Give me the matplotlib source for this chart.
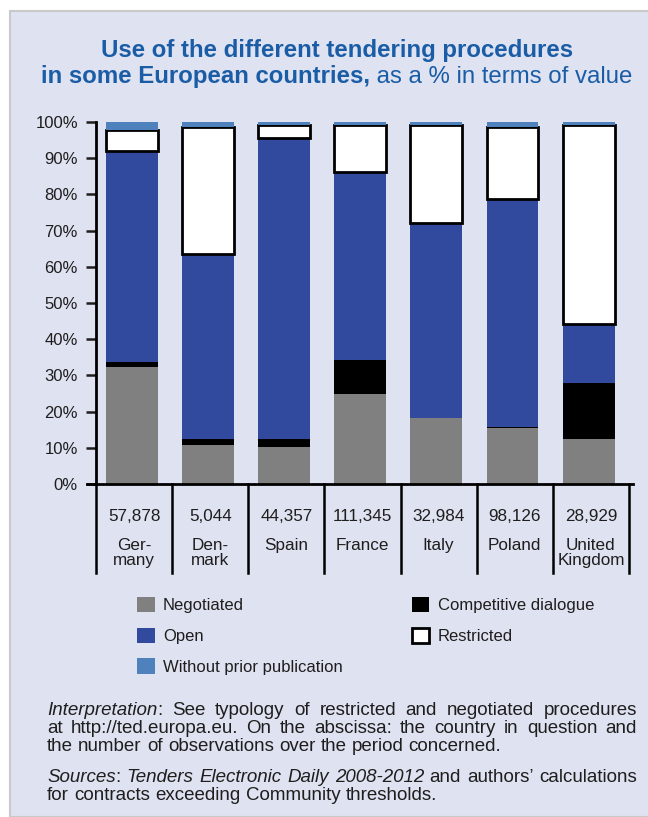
import matplotlib
matplotlib.use("Agg")
import matplotlib.pyplot as plt
from matplotlib.patches import Rectangle
import numpy as np

countries = ["Ger-\nmany", "Den-\nmark", "Spain", "France", "Italy", "Poland", "United\nKingdom"]
n_obs = ["57,878", "5,044", "44,357", "111,345", "32,984", "98,126", "28,929"]

negotiated = [32.4, 10.8, 10.1, 24.8, 18.1, 15.4, 12.3]
competitive = [1.2, 1.5, 2.2, 9.5, 0.0, 0.4, 15.5]
open_proc = [58.4, 51.2, 83.3, 51.8, 53.9, 62.9, 16.4]
restricted = [5.8, 35.0, 3.6, 13.1, 27.2, 19.8, 55.0]
without_prior = [2.2, 1.5, 0.8, 0.8, 0.8, 1.5, 0.8]

yticks = [0, 10, 20, 30, 40, 50, 60, 70, 80, 90, 100]

BG = "#DFE2F0"
TITLE_C = "#1A5DA6"
TXT = "#1E1E1E"
W, H = 648, 817

plt.rcParams["font.family"] = ["Liberation Sans", "DejaVu Sans"]

fig = plt.figure(figsize=(W / 100, H / 100), dpi=100, facecolor="white")
fig.patches.append(Rectangle((10 / W, 0), 1, 1 - 11 / H, transform=fig.transFigure,
                             facecolor=BG, edgecolor="#C9C9C9", linewidth=1.5, zorder=-5))

# title
fig.text(337 / W, 1 - 51 / H, "Use of the different tendering procedures", ha="center", va="center",
         fontsize=17.3, fontweight="bold", color=TITLE_C)
r = fig.canvas.get_renderer()
t1 = fig.text(0, 1 - 77 / H, "in some European countries,", ha="left", va="center",
              fontsize=17.3, fontweight="bold", color=TITLE_C)
t2 = fig.text(0, 1 - 77 / H, " as a % in terms of value", ha="left", va="center",
              fontsize=17.3, color=TITLE_C)
w1 = t1.get_window_extent(r).width
w2 = t2.get_window_extent(r).width
x0 = 337 - (w1 + w2) / 2
t1.set_x(x0 / W)
t2.set_x((x0 + w1) / W)

# main axes
ax = fig.add_axes([96 / W, 1 - 484 / H, (629 - 96) / W, (484 - 122) / H])
ax.patch.set_alpha(0)
x = np.arange(len(countries))
bw = 0.68
xb = x - 0.03

bottom = np.zeros(len(x))
ax.bar(xb, negotiated, bw, bottom=bottom, color="#808080", label="Negotiated", zorder=2)
bottom += negotiated
ax.bar(xb, competitive, bw, bottom=bottom, color="#000000", label="Competitive dialogue", zorder=2)
bottom += competitive
ax.bar(xb, open_proc, bw, bottom=bottom, color="#314A9D", label="Open", zorder=2)
bottom += open_proc
ax.bar(xb, restricted, bw, bottom=bottom, color="white", edgecolor="black", linewidth=2,
       label="Restricted", zorder=3)
bottom += restricted
ax.bar(xb, without_prior, bw, bottom=bottom, color="#4F81BD", label="Without prior publication", zorder=4)

ax.set_xlim(-0.5, len(x) - 0.5)
ax.set_ylim(0, 100)
ax.set_yticks(yticks)
ax.set_yticklabels([f"{v}%" for v in yticks])
ax.tick_params(axis="y", length=7, width=1.8, direction="out", labelsize=12, colors=TXT, pad=6)
ax.tick_params(axis="x", length=0, labelbottom=False)
for s in ["top", "right"]:
    ax.spines[s].set_visible(False)
ax.spines["left"].set_linewidth(2)
ax.spines["bottom"].set_linewidth(2)
ax.spines["bottom"].set_bounds(-0.62, len(x) - 0.45)

# table under the axis
for k in range(len(x) + 1):
    ax.plot([k - 0.5, k - 0.5], [0, -24.5], color="black", lw=1.8, clip_on=False, zorder=5)
for i in range(len(x)):
    ax.text(x[i], -9.1, n_obs[i], ha="center", va="center", fontsize=12.3, color=TXT, clip_on=False)
    ax.text(x[i], -15.0, countries[i], ha="center", va="top", fontsize=12.3, color=TXT,
            linespacing=1.0, clip_on=False)

# legend
h = {lab: hd for hd, lab in zip(*ax.get_legend_handles_labels())}
order = ["Negotiated", "Open", "Without prior publication", "Competitive dialogue", "Restricted"]
leg = fig.legend([h[o] for o in order], order, loc="upper left", bbox_to_anchor=(122 / W, 1 - 582 / H),
                 ncol=2, frameon=False, fontsize=12, handlelength=1.05, handleheight=1.05,
                 handletextpad=0.5, labelspacing=0.85, columnspacing=4.15)
for t in leg.get_texts():
    t.set_color(TXT)

# footnotes, justified
def draw_line(y, words, xl, xr=None, size=13.5):
    items = []
    total = 0
    for word in words:
        segs = []
        wsum = 0
        for txt, st in word:
            t = fig.text(0, 1 - (y + 5) / H, txt, fontsize=size, style=st, color=TXT,
                         va="baseline", ha="left")
            ww = t.get_window_extent(r).width
            segs.append((t, ww))
            wsum += ww
        items.append((segs, wsum))
        total += wsum
    gap = size * 100 / 72 * 0.278
    if xr is not None and len(items) > 1:
        gap = (xr - xl - total) / (len(items) - 1)
    xx = xl
    for segs, wsum in items:
        for t, ww in segs:
            t.set_x(xx / W)
            xx += ww
        xx += gap


def plain(s):
    return [[(w, "normal")] for w in s.split()]


XL, XR = 47, 637
draw_line(710, [[("Interpretation", "italic"), (":", "normal")]] +
          plain("See typology of restricted and negotiated procedures"), XL, XR)
draw_line(728, plain("at http://ted.europa.eu. On the abscissa: the country in question and"), XL, XR)
draw_line(746, plain("the number of observations over the period concerned."), XL)
draw_line(777, [[("Sources", "italic"), (":", "normal")], [("Tenders", "italic")], [("Electronic", "italic")],
                [("Daily", "italic")], [("2008-2012", "italic")]] + plain("and authors\u2019 calculations"),
          XL, XR)
draw_line(795, plain("for contracts exceeding Community thresholds."), XL)

fig.savefig("out.png", dpi=100, facecolor="white")
